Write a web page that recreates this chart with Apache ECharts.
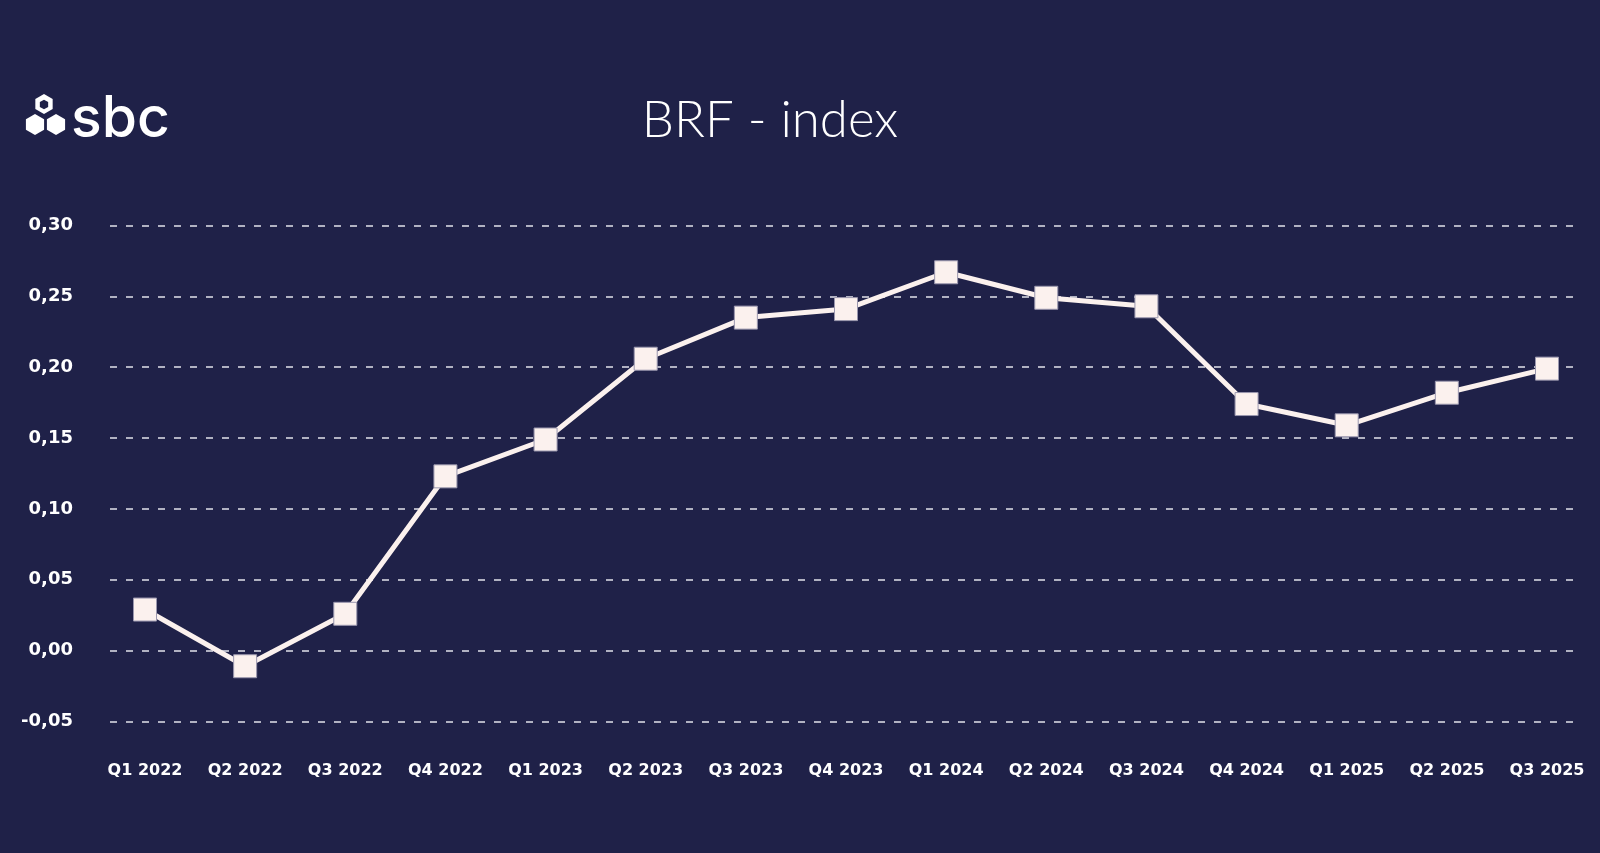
<!DOCTYPE html>
<html>
<head>
<meta charset="utf-8">
<script src="https://cdn.jsdelivr.net/npm/echarts@6/dist/echarts.min.js"></script>
<style>
html,body{margin:0;padding:0;background:#1f2148;}
#chart{width:1600px;height:853px;}
</style>
</head>
<body>
<div id="chart"></div>
<script>
const titleText = 'BRF - index';
const categories = ['Q1 2022','Q2 2022','Q3 2022','Q4 2022','Q1 2023','Q2 2023','Q3 2023','Q4 2023','Q1 2024','Q2 2024','Q3 2024','Q4 2024','Q1 2025','Q2 2025','Q3 2025'];
const values = [0.029, -0.011, 0.026, 0.123, 0.149, 0.206, 0.235, 0.241, 0.267, 0.249, 0.243, 0.174, 0.159, 0.182, 0.199];
const yMin = -0.05, yMax = 0.30, yStep = 0.05;

const bg = '#1f2148';
const fg = '#fbf1ee';
const chart = echarts.init(document.getElementById('chart'));

function hex(cx, cy, r) {
  const pts = [];
  for (let k = 0; k < 6; k++) {
    const a = Math.PI / 180 * (60 * k - 90);
    pts.push([cx + r * Math.cos(a), cy + r * Math.sin(a)]);
  }
  return pts;
}

const fmt = v => v.toFixed(2).replace('.', ',');

chart.setOption({
  backgroundColor: bg,
  animation: false,
  graphic: [
    { type: 'polygon', shape: { points: hex(44, 104, 10) }, style: { fill: '#ffffff' } },
    { type: 'polygon', shape: { points: hex(44, 104.5, 4.8) }, style: { fill: bg } },
    { type: 'polygon', shape: { points: hex(35, 124.5, 10.5) }, style: { fill: '#ffffff' } },
    { type: 'polygon', shape: { points: hex(56, 124.5, 10.5) }, style: { fill: '#ffffff' } },
    { type: 'text', left: 71, top: 91, style: { text: 'sbc', fill: '#ffffff', fontFamily: 'Inter', fontWeight: 500, fontSize: 57 } },
    { type: 'text', x: 770, y: 121, style: { text: titleText, fill: '#ffffff', fontFamily: 'Lato', fontWeight: 300, fontSize: 51, align: 'center', verticalAlign: 'middle' } }
  ],
  grid: [
    { left: 145, right: 53, top: 225.5, bottom: 131.5 },
    { left: 110, right: 20, top: 225.5, bottom: 131.5 }
  ],
  xAxis: [
    {
      type: 'category', gridIndex: 0, data: categories, boundaryGap: false,
      axisLine: { show: false }, axisTick: { show: false },
      axisLabel: { color: '#ffffff', fontFamily: 'DejaVu Sans', fontWeight: 'bold', fontSize: 16, margin: 41 }
    },
    { type: 'value', gridIndex: 1, show: false }
  ],
  yAxis: [
    { type: 'value', gridIndex: 0, min: yMin, max: yMax, interval: yStep, show: false },
    {
      type: 'value', gridIndex: 1, min: yMin, max: yMax, interval: yStep,
      axisLine: { show: false }, axisTick: { show: false },
      axisLabel: { color: '#ffffff', fontFamily: 'DejaVu Sans', fontWeight: 'bold', fontSize: 18, margin: 37, formatter: fmt },
      splitLine: { show: true, lineStyle: { color: '#e2e2ea', width: 1.5, type: [7, 9] } }
    }
  ],
  series: [{
    type: 'line', xAxisIndex: 0, yAxisIndex: 0, data: values,
    symbol: 'rect', symbolSize: 23, showAllSymbol: true,
    lineStyle: { color: fg, width: 5 },
    itemStyle: { color: fg, borderColor: '#9a97ae', borderWidth: 1, opacity: 1 }
  }]
});
</script>
</body>
</html>
